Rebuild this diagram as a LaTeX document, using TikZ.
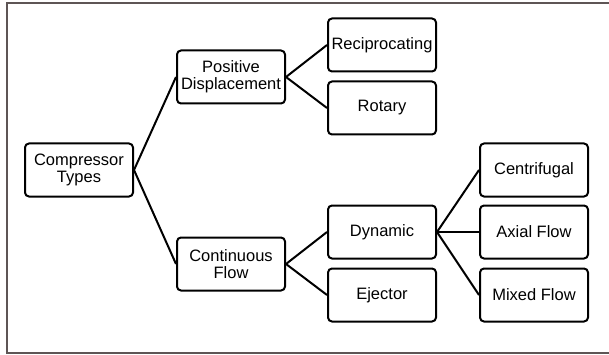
\documentclass[tikz,border=0pt]{standalone}
\usepackage{fontspec}
\setmainfont{Liberation Sans}
\usepackage{tikz}

\begin{document}
\begin{tikzpicture}[x=1pt,y=-1pt,
        typebox/.style={draw,line width=2pt,rounded corners=4pt,fill=white,align=center,minimum width=108pt,minimum height=53pt,inner sep=1pt,font=\fontsize{16.5}{17}\selectfont},
        branch/.style={line width=2pt}]
        \useasboundingbox (0,0) rectangle (609,355);
        \draw[line width=2pt,color={rgb,255:red,94;green,85;blue,85}] (612,3) -- (7,3) -- (7,353) -- (612,353);
        \node[typebox] (types) at (79,170) {Compressor\\Types};
        \node[typebox] (posdisp) at (231,77) {Positive\\Displacement};
        \node[typebox] (contflow) at (231,264) {Continuous\\Flow};
        \node[typebox] (recip) at (382,45) {Reciprocating};
        \node[typebox] (rotary) at (382,108) {Rotary};
        \node[typebox] (dynamic) at (382,232) {Dynamic};
        \node[typebox] (ejector) at (382,295) {Ejector};
        \node[typebox] (centri) at (534,170) {Centrifugal};
        \node[typebox] (axial) at (534,232) {Axial Flow};
        \node[typebox] (mixed) at (534,295) {Mixed Flow};
        \draw[branch] (posdisp.west) -- (types.east) -- (contflow.west);
        \draw[branch] (recip.west) -- (posdisp.east) -- (rotary.west);
        \draw[branch] (dynamic.west) -- (contflow.east) -- (ejector.west);
        \draw[branch] (centri.west) -- (dynamic.east) -- (mixed.west);
        \draw[branch] (dynamic.east) -- (axial.west);
      \end{tikzpicture}
\end{document}
